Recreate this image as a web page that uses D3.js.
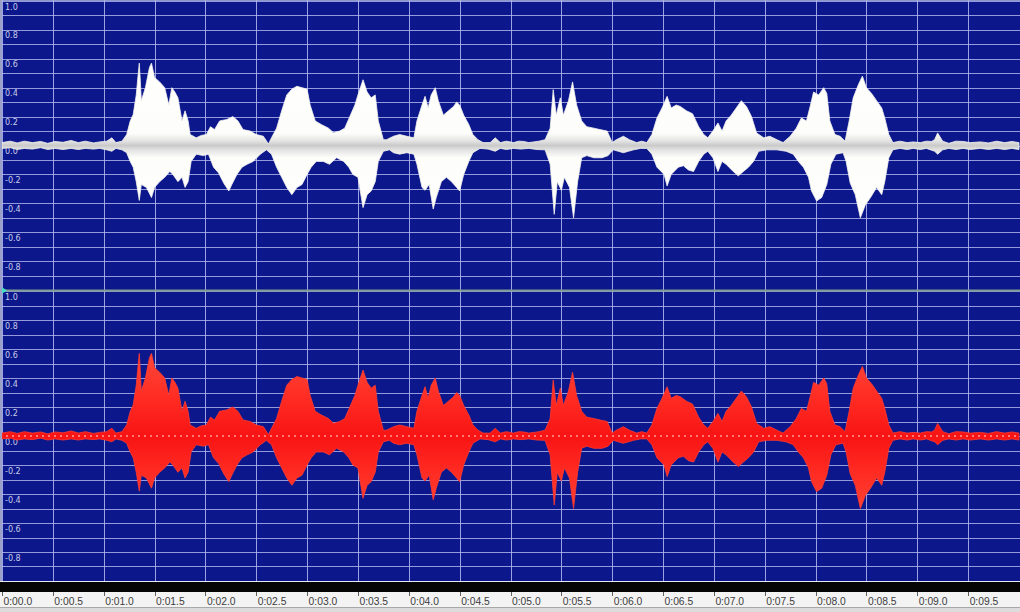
<!DOCTYPE html>
<html>
<head>
<meta charset="utf-8">
<script src="https://cdn.jsdelivr.net/npm/d3@7"></script>
<style>
  html, body { margin: 0; padding: 0; background: #ffffff; }
  svg { display: block; }
</style>
</head>
<body>
<svg id="chart" width="1020" height="612"></svg>
<script>
// ---------------- DATA ----------------
// amplitude tick labels (per channel)
const ampTicks = [1.0, 0.8, 0.6, 0.4, 0.2, 0.0, -0.2, -0.4, -0.6, -0.8];
// time tick labels (seconds)
const timeTicks = [0, 0.5, 1, 1.5, 2, 2.5, 3, 3.5, 4, 4.5, 5, 5.5, 6, 6.5, 7, 7.5, 8, 8.5, 9, 9.5];
const timeLabels = ["0:00.0","0:00.5","0:01.0","0:01.5","0:02.0","0:02.5","0:03.0","0:03.5","0:04.0","0:04.5",
                    "0:05.0","0:05.5","0:06.0","0:06.5","0:07.0","0:07.5","0:08.0","0:08.5","0:09.0","0:09.5"];

// waveform envelope, upper edge: [time s, amplitude]
const envelopeUpper = [
  [0.00,0.02],[0.08,0.03],[0.15,0.018],[0.22,0.03],[0.30,0.02],[0.38,0.028],[0.45,0.015],[0.52,0.028],[0.60,0.022],[0.68,0.035],
  [0.75,0.02],[0.82,0.03],[0.90,0.018],[0.96,0.025],[1.03,0.03],[1.08,0.053],[1.12,0.02],[1.18,0.03],
  [1.226,0.076],[1.26,0.168],[1.29,0.214],[1.32,0.35],[1.34,0.50],[1.35,0.57],[1.36,0.45],[1.37,0.31],[1.41,0.40],[1.45,0.54],
  [1.47,0.57],[1.50,0.47],[1.55,0.44],[1.60,0.40],[1.64,0.28],[1.67,0.40],[1.70,0.37],[1.73,0.33],[1.77,0.17],[1.80,0.24],
  [1.83,0.17],[1.85,0.076],[1.91,0.053],[1.96,0.07],[2.01,0.076],[2.05,0.13],[2.09,0.11],[2.14,0.17],[2.21,0.18],[2.27,0.20],
  [2.32,0.17],[2.37,0.11],[2.44,0.10],[2.50,0.076],[2.57,0.064],[2.62,0.01],[2.65,0.053],[2.70,0.12],[2.75,0.24],[2.80,0.35],
  [2.85,0.39],[2.90,0.41],[2.95,0.40],[3.00,0.39],[3.03,0.28],[3.08,0.17],[3.14,0.145],[3.21,0.12],[3.26,0.088],[3.32,0.10],
  [3.37,0.12],[3.42,0.20],[3.47,0.28],[3.50,0.35],[3.55,0.455],[3.59,0.37],[3.63,0.33],[3.67,0.35],[3.70,0.17],[3.75,0.04],
  [3.78,0.04],[3.85,0.064],[3.91,0.076],[3.98,0.064],[4.05,0.053],[4.08,0.17],[4.13,0.28],[4.16,0.34],[4.19,0.26],[4.22,0.35],
  [4.26,0.40],[4.29,0.31],[4.34,0.21],[4.39,0.24],[4.44,0.27],[4.47,0.30],[4.50,0.28],[4.54,0.21],[4.59,0.145],[4.63,0.076],
  [4.68,0.04],[4.73,0.02],[4.80,0.02],[4.85,0.053],[4.90,0.02],[4.96,0.03],[5.03,0.02],[5.08,0.03],[5.13,0.028],[5.18,0.02],
  [5.23,0.025],[5.28,0.03],[5.34,0.04],[5.39,0.12],[5.42,0.386],[5.45,0.21],[5.49,0.33],[5.52,0.21],[5.57,0.31],[5.61,0.44],
  [5.65,0.28],[5.70,0.17],[5.75,0.13],[5.82,0.12],[5.88,0.11],[5.95,0.10],[6.00,0.02],[6.04,0.04],[6.11,0.064],[6.17,0.04],
  [6.24,0.02],[6.29,0.03],[6.34,0.02],[6.39,0.076],[6.44,0.19],[6.49,0.26],[6.54,0.34],[6.58,0.26],[6.63,0.28],[6.67,0.27],
  [6.73,0.24],[6.79,0.22],[6.85,0.13],[6.90,0.076],[6.94,0.053],[6.99,0.10],[7.04,0.156],[7.08,0.10],[7.12,0.17],[7.17,0.21],
  [7.22,0.26],[7.27,0.31],[7.32,0.27],[7.37,0.20],[7.42,0.087],[7.49,0.053],[7.55,0.064],[7.62,0.04],[7.68,0.02],[7.75,0.064],
  [7.81,0.12],[7.86,0.19],[7.91,0.17],[7.95,0.28],[7.98,0.37],[8.03,0.35],[8.08,0.40],[8.11,0.36],[8.14,0.17],[8.19,0.076],
  [8.24,0.064],[8.29,0.03],[8.33,0.17],[8.37,0.33],[8.42,0.42],[8.46,0.48],[8.50,0.40],[8.55,0.36],[8.60,0.31],[8.65,0.26],
  [8.68,0.19],[8.72,0.076],[8.76,0.02],[8.83,0.03],[8.90,0.02],[8.96,0.025],[9.03,0.02],[9.09,0.03],[9.14,0.028],[9.17,0.04],
  [9.20,0.087],[9.25,0.03],[9.31,0.015],[9.38,0.03],[9.45,0.028],[9.52,0.02],[9.62,0.025],[9.70,0.018],[9.78,0.03],[9.86,0.02],
  [9.93,0.028],[10.0,0.02]
];
// waveform envelope, lower edge: [time s, amplitude]
const envelopeLower = [
  [0.00,-0.02],[0.08,-0.015],[0.15,-0.028],[0.22,-0.02],[0.30,-0.025],[0.38,-0.015],[0.45,-0.028],[0.52,-0.02],[0.60,-0.028],[0.68,-0.02],
  [0.75,-0.028],[0.82,-0.02],[0.90,-0.025],[0.96,-0.02],[1.03,-0.03],[1.08,-0.04],[1.12,-0.02],[1.18,-0.03],
  [1.226,-0.05],[1.26,-0.11],[1.29,-0.15],[1.32,-0.25],[1.35,-0.38],[1.37,-0.27],[1.42,-0.29],[1.47,-0.36],[1.50,-0.29],[1.55,-0.25],
  [1.60,-0.22],[1.65,-0.18],[1.68,-0.20],[1.73,-0.25],[1.77,-0.22],[1.80,-0.29],[1.83,-0.25],[1.86,-0.11],[1.91,-0.06],[1.98,-0.07],
  [2.03,-0.06],[2.08,-0.15],[2.13,-0.19],[2.18,-0.26],[2.23,-0.315],[2.26,-0.27],[2.31,-0.20],[2.36,-0.15],[2.41,-0.13],[2.47,-0.11],
  [2.54,-0.06],[2.60,-0.03],[2.65,-0.06],[2.70,-0.15],[2.75,-0.22],[2.80,-0.29],[2.85,-0.34],[2.90,-0.29],[2.95,-0.27],[3.00,-0.20],
  [3.04,-0.15],[3.09,-0.11],[3.16,-0.11],[3.22,-0.13],[3.29,-0.085],[3.36,-0.11],[3.41,-0.15],[3.45,-0.20],[3.50,-0.22],[3.55,-0.43],
  [3.59,-0.34],[3.63,-0.315],[3.67,-0.25],[3.70,-0.11],[3.75,-0.04],[3.81,-0.03],[3.85,-0.05],[3.91,-0.06],[3.98,-0.05],[4.05,-0.06],
  [4.08,-0.13],[4.13,-0.29],[4.16,-0.31],[4.20,-0.27],[4.24,-0.44],[4.27,-0.36],[4.32,-0.25],[4.37,-0.22],[4.42,-0.25],[4.47,-0.29],
  [4.50,-0.315],[4.54,-0.20],[4.59,-0.11],[4.63,-0.05],[4.70,-0.02],[4.78,-0.025],[4.85,-0.04],[4.90,-0.02],[4.96,-0.028],[5.03,-0.02],
  [5.10,-0.025],[5.18,-0.02],[5.26,-0.028],[5.34,-0.03],[5.39,-0.13],[5.43,-0.476],[5.46,-0.25],[5.50,-0.31],[5.53,-0.22],[5.58,-0.29],
  [5.62,-0.50],[5.66,-0.25],[5.70,-0.085],[5.75,-0.07],[5.82,-0.085],[5.90,-0.085],[5.96,-0.07],[6.01,-0.03],[6.06,-0.04],[6.11,-0.05],
  [6.16,-0.04],[6.21,-0.03],[6.28,-0.02],[6.34,-0.02],[6.39,-0.06],[6.44,-0.15],[6.51,-0.20],[6.54,-0.28],[6.58,-0.20],[6.65,-0.15],
  [6.70,-0.14],[6.75,-0.17],[6.80,-0.18],[6.85,-0.11],[6.90,-0.06],[6.94,-0.04],[6.99,-0.085],[7.04,-0.18],[7.08,-0.11],[7.12,-0.13],
  [7.19,-0.18],[7.24,-0.21],[7.29,-0.18],[7.34,-0.15],[7.39,-0.11],[7.44,-0.04],[7.52,-0.03],[7.62,-0.03],[7.71,-0.04],[7.78,-0.06],
  [7.83,-0.11],[7.88,-0.15],[7.93,-0.22],[7.96,-0.315],[8.01,-0.384],[8.06,-0.36],[8.11,-0.27],[8.15,-0.13],[8.20,-0.06],[8.27,-0.05],
  [8.30,-0.11],[8.34,-0.26],[8.39,-0.34],[8.44,-0.50],[8.49,-0.41],[8.54,-0.36],[8.60,-0.29],[8.65,-0.34],[8.68,-0.25],[8.72,-0.085],
  [8.76,-0.03],[8.83,-0.02],[8.90,-0.028],[8.96,-0.02],[9.03,-0.028],[9.09,-0.02],[9.17,-0.04],[9.20,-0.06],[9.25,-0.03],[9.31,-0.02],
  [9.38,-0.028],[9.45,-0.02],[9.52,-0.028],[9.62,-0.02],[9.70,-0.028],[9.78,-0.02],[9.86,-0.028],[9.93,-0.02],[10.0,-0.028]
];

// ---------------- DRAW ----------------
const W = 1020, H = 612;
const svg = d3.select("#chart");
const defs = svg.append("defs");

const x = d3.scaleLinear().domain([0, 10]).range([2, 1019]);
const panels = [
  { name: "left",  y: d3.scaleLinear().domain([-1, 1]).range([290, 1]),   top: 0,   bottom: 290 },
  { name: "right", y: d3.scaleLinear().domain([-1, 1]).range([581, 291]), top: 291, bottom: 581 }
];

// background
svg.append("rect").attr("x", 0).attr("y", 0).attr("width", W).attr("height", 582).attr("fill", "#0c178c");
svg.append("line").attr("x1", 0).attr("x2", W).attr("y1", 0.5).attr("y2", 0.5).attr("stroke", "#8d96c8").attr("stroke-width", 1);

// gradients
const gW = defs.append("linearGradient").attr("id", "gWhite").attr("gradientUnits", "userSpaceOnUse")
  .attr("x1", 0).attr("x2", 0).attr("y1", panels[0].y(0.6)).attr("y2", panels[0].y(-0.6));
[[0, "#ffffff"], [0.43, "#fdfdfa"], [0.475, "#e2e2e2"], [0.5, "#cacaca"], [0.525, "#e2e2e2"], [0.57, "#fdfdfa"], [1, "#ffffff"]]
  .forEach(s => gW.append("stop").attr("offset", s[0]).attr("stop-color", s[1]));
const gR = defs.append("linearGradient").attr("id", "gRed").attr("gradientUnits", "userSpaceOnUse")
  .attr("x1", 0).attr("x2", 0).attr("y1", panels[1].y(0.6)).attr("y2", panels[1].y(-0.6));
[[0, "#ff4a3a"], [0.3, "#ff2a22"], [0.5, "#f81414"], [0.7, "#ff2a22"], [1, "#ff4a3a"]]
  .forEach(s => gR.append("stop").attr("offset", s[0]).attr("stop-color", s[1]));

panels.forEach(p => {
  defs.append("clipPath").attr("id", "clip-" + p.name)
    .append("rect").attr("x", 0).attr("y", p.top).attr("width", W).attr("height", p.bottom - p.top);
});

const gridColor = "#b6bbf0";

panels.forEach(p => {
  const g = svg.append("g");
  // horizontal grid every 0.1
  const hv = d3.range(-9, 11).map(i => i / 10);
  g.selectAll("line.h").data(hv).enter().append("line")
    .attr("x1", 0).attr("x2", W)
    .attr("y1", d => Math.round(p.y(d)) + 0.5).attr("y2", d => Math.round(p.y(d)) + 0.5)
    .attr("stroke", gridColor).attr("stroke-opacity", 0.8).attr("stroke-width", 1);
  // vertical grid every 0.5 s
  g.selectAll("line.v").data(timeTicks).enter().append("line")
    .attr("x1", d => Math.round(x(d)) + 0.5).attr("x2", d => Math.round(x(d)) + 0.5)
    .attr("y1", p.top).attr("y2", p.bottom)
    .attr("stroke", gridColor).attr("stroke-opacity", 0.85).attr("stroke-width", 1);
  // amplitude labels
  g.selectAll("text.amp").data(ampTicks).enter().append("text")
    .attr("x", 5).attr("y", d => p.y(d) + 8.5)
    .attr("font-family", "DejaVu Sans, sans-serif").attr("font-size", 8)
    .attr("fill", "#c9cbe6")
    .text(d => d.toFixed(1));
});

// waveforms
const line = d3.line().x(d => x(d[0]));
panels.forEach((p, i) => {
  line.y(d => p.y(d[1]));
  const pts = envelopeUpper.concat(envelopeLower.slice().reverse());
  const gw = svg.append("g").attr("clip-path", "url(#clip-" + p.name + ")");
  gw.append("path")
    .attr("d", line(pts) + "Z")
    .attr("fill", i === 0 ? "url(#gWhite)" : "url(#gRed)")
    .attr("stroke", i === 0 ? "#f4f4ee" : "#ff3a2e")
    .attr("stroke-width", 0.8)
    .attr("stroke-linejoin", "round");
  if (i === 1) {
    gw.append("line")
      .attr("x1", 0).attr("x2", W).attr("y1", p.y(0)).attr("y2", p.y(0))
      .attr("stroke", "#ff9c94").attr("stroke-width", 1.4).attr("stroke-dasharray", "2,4");
  }
});

// separator between channels
svg.append("line").attr("x1", 0).attr("x2", W).attr("y1", 290.5).attr("y2", 290.5)
  .attr("stroke", "#7f9c92").attr("stroke-width", 2);
svg.append("path").attr("d", "M0,286 L7,290.5 L0,295 Z").attr("fill", "#46e0c4");

// left border
svg.append("line").attr("x1", 1).attr("x2", 1).attr("y1", 0).attr("y2", 582)
  .attr("stroke", "#9aa0c8").attr("stroke-width", 2);

// bottom black bar
svg.append("rect").attr("x", 0).attr("y", 582).attr("width", W).attr("height", 10).attr("fill", "#050505");
svg.append("line").attr("x1", 0).attr("x2", W).attr("y1", 581.5).attr("y2", 581.5).attr("stroke", "#e8e8f0").attr("stroke-width", 1);

// time axis area
svg.append("rect").attr("x", 0).attr("y", 592).attr("width", W).attr("height", 16).attr("fill", "#f3f3f3");
svg.append("rect").attr("x", 0).attr("y", 607).attr("width", W).attr("height", 5).attr("fill", "#dcdcdc");
svg.append("line").attr("x1", 0).attr("x2", W).attr("y1", 607.5).attr("y2", 607.5).attr("stroke", "#a8a8a8");

const tg = svg.append("g");
tg.selectAll("line").data(timeTicks).enter().append("line")
  .attr("x1", d => Math.round(x(d)) + 0.5).attr("x2", d => Math.round(x(d)) + 0.5)
  .attr("y1", 592).attr("y2", 596).attr("stroke", "#606060");
tg.selectAll("text").data(timeTicks).enter().append("text")
  .attr("x", d => x(d) + 1.5).attr("y", 605)
  .attr("font-family", "Liberation Sans, Arial, sans-serif").attr("font-size", 10.3)
  .attr("fill", "#3c3c3c")
  .text((d, i) => timeLabels[i]);
</script>
</body>
</html>
